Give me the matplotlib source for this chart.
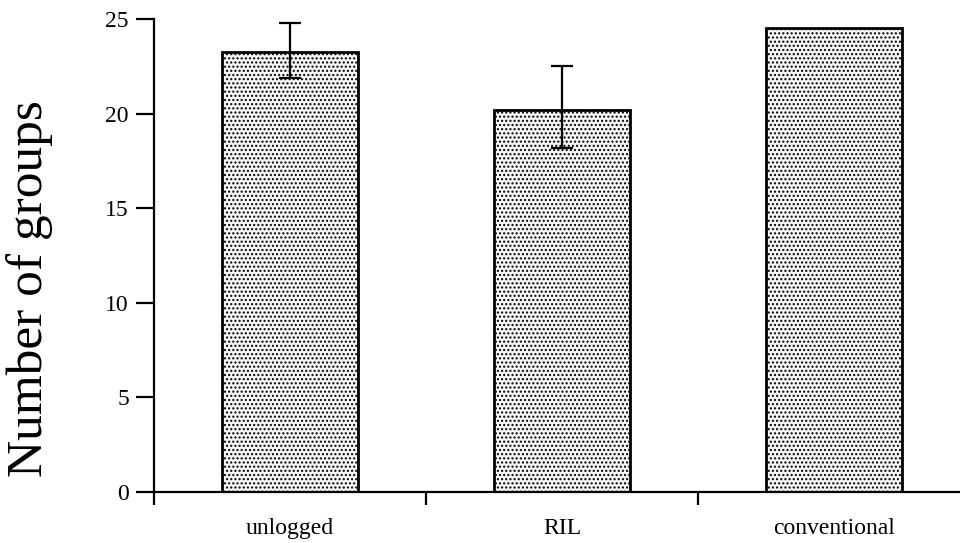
import numpy as np
import matplotlib
matplotlib.use("Agg")
import matplotlib.pyplot as plt

# values
categories = ["unlogged", "RIL", "conventional"]
groups = [23.25, 20.2, 24.5]
err_low = [1.35, 2.0, 0.0]
err_high = [1.55, 2.3, 0.0]
has_err = [True, True, False]

plt.rcParams['font.family'] = ['Liberation Serif', 'DejaVu Serif']
plt.rcParams['hatch.color'] = '#b0b0b0'
plt.rcParams['hatch.linewidth'] = 1.0

fig = plt.figure(figsize=(9.6, 5.43), dpi=100)
ax = fig.add_axes([154/960, 51/543, (960-154)/960, 473/543])

x = np.arange(len(categories))
ax.bar(x, groups, width=0.5, facecolor='#f6f6f6', edgecolor='black',
       linewidth=2, hatch='....', zorder=2)

ex = [xi for xi, h in zip(x, has_err) if h]
ey = [g for g, h in zip(groups, has_err) if h]
elo = [e for e, h in zip(err_low, has_err) if h]
ehi = [e for e, h in zip(err_high, has_err) if h]
ax.errorbar(ex, ey, yerr=[elo, ehi], fmt='none', ecolor='black',
            elinewidth=1.6, capsize=8, capthick=1.6, zorder=3)

ax.set_xlim(-0.5, 2.463)
ax.set_ylim(0, 25)
ax.set_yticks([0, 5, 10, 15, 20, 25])
ax.set_xticks([-0.5, 0.5, 1.5])
ax.set_xticklabels([])
ax.set_xticks(x, minor=True)
ax.set_xticklabels(categories, minor=True)
ax.tick_params(axis='x', which='major', direction='out', length=9.5, width=1.6)
ax.tick_params(axis='x', which='minor', length=0, pad=19, labelsize=17)
ax.tick_params(axis='y', direction='out', length=13, width=1.6, pad=5, labelsize=17)

for s in ['top', 'right']:
    ax.spines[s].set_visible(False)
for s in ['left', 'bottom']:
    ax.spines[s].set_linewidth(1.6)

ax.set_ylabel("Number of groups", fontsize=37)
ax.yaxis.label.set_verticalalignment('center')
ax.yaxis.set_label_coords((30 - 154) / 806, 0.43)

fig.savefig("out.png", dpi=100)
